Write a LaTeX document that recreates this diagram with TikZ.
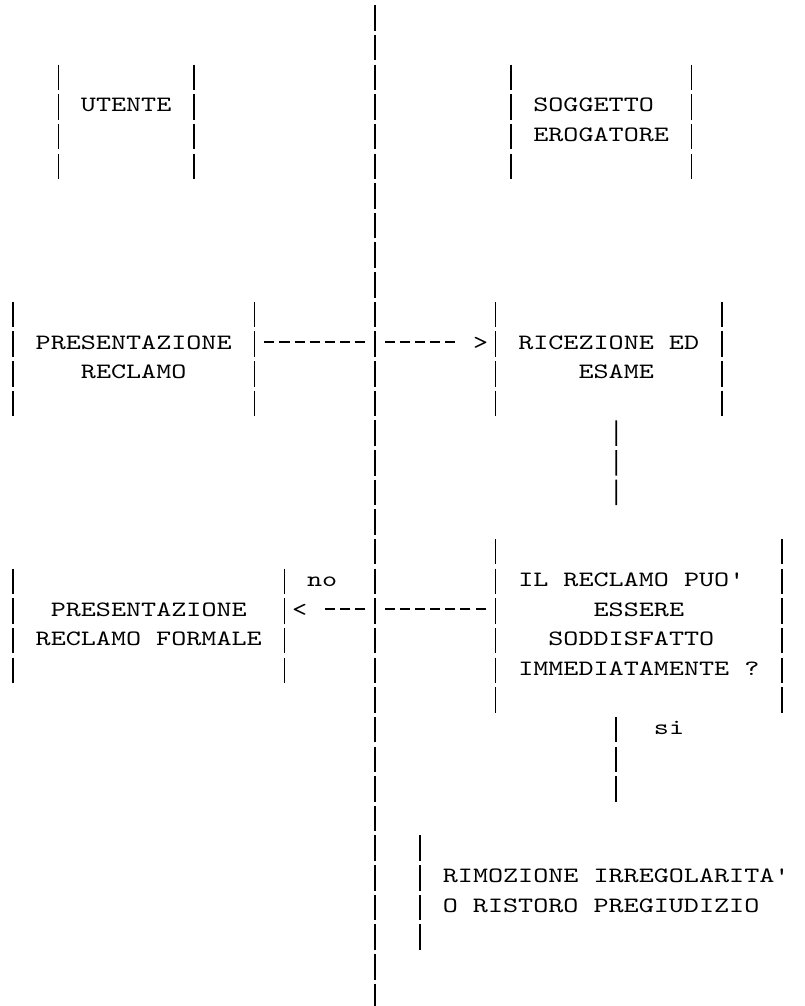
\documentclass[tikz,border=0pt]{standalone}
\usepackage{fontspec}
\setmonofont{lmmono10-regular.otf}[FakeStretch=1.311]
\usetikzlibrary{calc}
\newdimen\colw \colw=15.08pt
\newdimen\rowh \rowh=29.65pt
\tikzset{
  txt/.style={anchor=base west, inner sep=0pt, outer sep=0pt,
    font=\ttfamily\fontsize{21.9pt}{29.65pt}\selectfont},
  frame/.style n args={2}{rectangle, inner sep=0pt, outer sep=0pt,
    minimum width=#1*\colw, minimum height=#2*\rowh},
  vbar/.style={line width=1.6pt, dash pattern=on 25.5pt off 4.15pt},
  hdash/.style={line width=1.5pt, dash pattern=on 10.05pt off 5.03pt},
}
\begin{document}
\begin{tikzpicture}[x=15.08pt,y=-29.65pt]
\fill[white] (-24.867,-0.607) rectangle (28.515,33.322);
\useasboundingbox (-24.867,-0.607) rectangle (28.515,33.322);

% boxes (their sides are drawn as broken bars)
\node[frame={9}{3.86}]  (utente) at (-16.5,3.5) {};
\node[frame={12}{3.86}] (sogg)   at (15,3.5) {};
\node[frame={16}{3.86}] (pres)   at (-16,11.5) {};
\node[frame={15}{3.86}] (ric)    at (15.5,11.5) {};
\node[frame={18}{3.86}] (form)   at (-15,20.5) {};
\node[frame={19}{5.86}] (dec)    at (17.5,20.5) {};
\node[frame={26}{3.86}] (rim)    at (16,29.5) {};

\foreach \b in {utente,sogg,pres,ric,form,dec}{
  \draw[vbar] (\b.north west) -- (\b.south west);
  \draw[vbar] (\b.north east) -- (\b.south east);
}
\draw[vbar] (rim.north west) -- (rim.south west);

% central divider
\coordinate (divtop) at (0,-0.43);
\coordinate (divbot) at (0,33.43);
\draw[vbar] (divtop) -- (divbot);

% texts
\node[txt] (tut)   at (-19.5,3.17) {UTENTE};
\node[txt] (tso1)  at (10.5,3.17)  {SOGGETTO};
\node[txt] (tso2)  at (10.5,4.17)  {EROGATORE};
\node[txt] (tpr1)  at (-22.5,11.17) {PRESENTAZIONE};
\node[txt] (tpr2)  at (-19.5,12.17) {RECLAMO};
\node[txt] (tipR)  at (6.5,11.17)  {>};
\node[txt] (tri1)  at (9.5,11.17)  {RICEZIONE ED};
\node[txt] (tri2)  at (13.5,12.17) {ESAME};
\node[txt] (tno)   at (-4.5,19.17) {no};
\node[txt] (tde1)  at (9.5,19.17)  {IL RECLAMO PUO'};
\node[txt] (tipL)  at (-5.5,20.17) {<};
\node[txt] (tfo1)  at (-21.5,20.17) {PRESENTAZIONE};
\node[txt] (tde2)  at (14.5,20.17) {ESSERE};
\node[txt] (tfo2)  at (-22.5,21.17) {RECLAMO FORMALE};
\node[txt] (tde3)  at (11.5,21.17) {SODDISFATTO};
\node[txt] (tde4)  at (9.5,22.17)  {IMMEDIATAMENTE ?};
\node[txt] (tsi)   at (18.5,24.17) {si};
\node[txt] (tri3)  at (4.5,29.17)  {RIMOZIONE IRREGOLARITA'};
\node[txt] (tri4)  at (4.5,30.17)  {O RISTORO PREGIUDIZIO};

% connectors
\coordinate (r11) at (0,10.93);
\coordinate (r20) at (0,19.93);
\draw[hdash] ($(pres.east|-r11)+(0.667,0)$) -- ($(r11)+(-0.667,0)$);
\draw[hdash] ($(r11)+(0.667,0)$) -- ($(ric.west|-r11)+(-2.667,0)$);
\draw[hdash] ($(dec.west|-r20)+(-0.667,0)$) -- ($(r20)+(0.667,0)$);
\draw[hdash] ($(r20)+(-0.667,0)$) -- ($(form.east|-r20)+(2.667,0)$);
\draw[vbar] ($(ric.south)+(0.5,0.14)$) -- ($(dec.north)+(-1.5,-1.14)$);
\draw[vbar] ($(dec.south)+(-1.5,0.14)$) -- ($(rim.north)+(0,-1.14)$);
\end{tikzpicture}
\end{document}
